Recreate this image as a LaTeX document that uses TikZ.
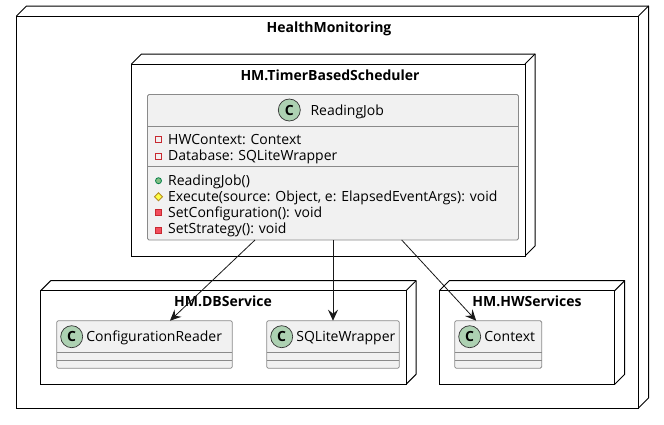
\documentclass[tikz,border=0pt]{standalone}
\usepackage{fontspec}
\setmainfont{Open Sans}
\usetikzlibrary{arrows.meta,calc}
\definecolor{classbg}{HTML}{F1F1F1}
\definecolor{classbd}{HTML}{8A8A8A}
\definecolor{spot}{HTML}{ADD1B2}
\definecolor{privline}{HTML}{C82930}
\definecolor{privfill}{HTML}{F24D5C}
\definecolor{publine}{HTML}{038048}
\definecolor{pubfill}{HTML}{84BE84}
\definecolor{protline}{HTML}{B38D22}
\definecolor{protfill}{HTML}{FFFF44}
\tikzset{
  x=1pt,y=-1pt,
  pkg/.style={draw=black,line width=1pt,fill=white},
  pkgedge/.style={draw=black,line width=1pt,line join=round},
  cls/.style={draw=classbd,line width=.8pt,fill=classbg,rounded corners=1.5pt,inner sep=0pt,outer sep=0pt},
  sep/.style={draw=classbd,line width=.8pt},
  title/.style={font=\fontsize{14}{16}\selectfont\bfseries,inner sep=0pt,anchor=base},
  txt/.style={font=\fontsize{14}{16}\selectfont,inner sep=0pt,anchor=base west},
  spotc/.style={circle,draw=black!80,line width=.7pt,fill=spot,minimum size=22pt,inner sep=0pt,font=\fontsize{14}{14}\selectfont\bfseries},
  link/.style={draw=black!90,line width=.8pt,-{Stealth[length=11pt,width=10pt,inset=4pt]}},
  privattr/.style={draw=privline,line width=.8pt,fill=none},
  privmeth/.style={draw=privline,line width=.8pt,fill=privfill},
}
\newcommand{\pkgbox}[4]{%
  \draw[pkgedge] (#1,#2) -- (#1+10,#2-10) -- (#3+10,#2-10) -- (#3+10,#4-10) -- (#3,#4);
  \draw[pkgedge] (#3,#2) -- (#3+10,#2-10);
  \draw[pkg] (#1,#2) rectangle (#3,#4);
}
\newcommand{\emptycls}[5]{% x0, x1, box name, spot name, text
  \node[cls,minimum width=#2-#1,minimum height=47.6] (#3) at ({(#1+#2)/2},344.5) {};
  \draw[sep] (#1,352.3) -- (#2,352.3);
  \draw[sep] (#1,360.3) -- (#2,360.3);
  \node[spotc] (#4) at (#1+15,336.7) {C};
  \node[txt] (#3t) at (#1+29.5,341.7) {#5};
}
\begin{document}
\begin{tikzpicture}
\useasboundingbox (0,0) rectangle (664,424);
\fill[white] (0,0) rectangle (664,424);
\pkgbox{16.5}{16}{638.5}{408}
\node[title] (tHM) at (329,32.5) {HealthMonitoring};
\pkgbox{131.5}{64}{525}{256}
\node[title] (tTS) at (330,80.7) {HM.TimerBasedScheduler};
\node[cls,minimum width=371,minimum height=145.5] (rj) at (333,167.25) {};
\draw[sep] (147.5,126) -- (518.5,126);
\draw[sep] (147.5,166.7) -- (518.5,166.7);
\node[spotc] (sRJ) at (289.3,110) {C};
\node[txt] (nRJ) at (310.3,115) {ReadingJob};
\draw[privattr] (155.7,136.3) rectangle (161.7,142.3);
\node[txt] (a1) at (168,144) {HWContext: Context};
\draw[privattr] (155.7,153) rectangle (161.7,159);
\node[txt] (a2) at (168,160) {Database: SQLiteWrapper};
\fill[pubfill,draw=publine,line width=.8pt] (158.5,180.7) circle (3);
\node[txt] (m1) at (168,185) {ReadingJob()};
\draw[draw=protline,fill=protfill,line width=.8pt] (158.5,192.7) -- (162.5,196.7) -- (158.5,200.7) -- (154.5,196.7) -- cycle;
\node[txt] (m2) at (168,201) {Execute(source: Object, e: ElapsedEventArgs): void};
\draw[privmeth] (155.5,209.7) rectangle (161.5,215.7);
\node[txt] (m3) at (168,217) {SetConfiguration(): void};
\draw[privmeth] (155.5,227) rectangle (161.5,233);
\node[txt] (m4) at (168,233.7) {SetStrategy(): void};
\pkgbox{40.7}{290.7}{406}{384.3}
\node[title] (tDB) at (223,306.7) {HM.DBService};
\emptycls{56.7}{232.3}{cfg}{scfg}{ConfigurationReader}
\emptycls{266.7}{399.3}{sql}{ssql}{SQLiteWrapper}
\pkgbox{439.3}{290.7}{614.7}{384.3}
\node[title] (tHW) at (527,306.7) {HM.HWServices};
\emptycls{454.7}{541.7}{ctx}{sctx}{Context}
\draw[link] ($(rj.south)+(-78,0)$) -- ($(cfg.north)+(25.5,0)$);
\draw[link] (rj.south) -- (sql.north);
\draw[link] ($(rj.south)+(68.7,0)$) -- ($(ctx.north)+(-22,0)$);
\end{tikzpicture}
\end{document}
